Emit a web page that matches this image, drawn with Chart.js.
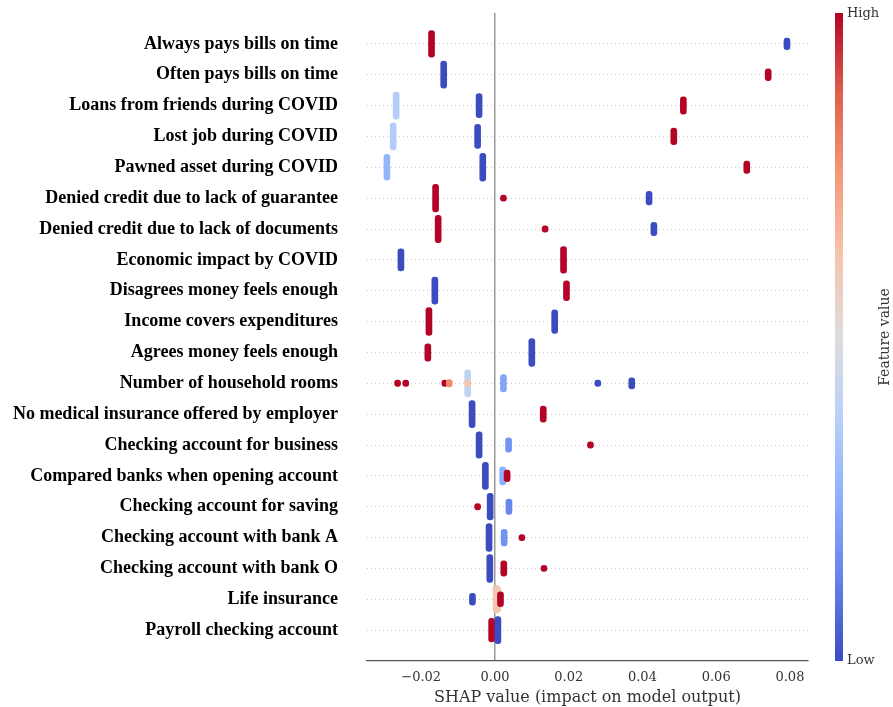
<!DOCTYPE html>
<html>
<head>
<meta charset="utf-8">
<script src="https://cdn.jsdelivr.net/npm/chart.js@4/dist/chart.umd.min.js"></script>
<style>
  html, body { margin: 0; padding: 0; background: #ffffff; }
  #shapChart { display: block; }
</style>
</head>
<body>
<canvas id="shapChart" width="893" height="707"></canvas>
<script>
// Features, top to bottom
const features = [
  'Always pays bills on time',
  'Often pays bills on time',
  'Loans from friends during COVID',
  'Lost job during COVID',
  'Pawned asset during COVID',
  'Denied credit due to lack of guarantee',
  'Denied credit due to lack of documents',
  'Economic impact by COVID',
  'Disagrees money feels enough',
  'Income covers expenditures',
  'Agrees money feels enough',
  'Number of household rooms',
  'No medical insurance offered by employer',
  'Checking account for business',
  'Compared banks when opening account',
  'Checking account for saving',
  'Checking account with bank A',
  'Checking account with bank O',
  'Life insurance',
  'Payroll checking account'
]

// SHAP value of each cluster of samples, per feature
const shapValues = [
  [-0.0172, 0.0792],
  [-0.0139, 0.0741],
  [-0.0268, -0.0043, 0.0511],
  [-0.0276, -0.0047, 0.0485],
  [-0.0293, -0.0033, 0.0683],
  [-0.0161, 0.0023, 0.0418],
  [-0.0154, 0.0136, 0.0431],
  [-0.0255, 0.0186],
  [-0.0163, 0.0194],
  [-0.0179, 0.0162],
  [-0.0182, 0.0100],
  [-0.0264, -0.0242, -0.0136, -0.0124, -0.0074, -0.0074, 0.0023, 0.0279, 0.0371],
  [-0.0062, 0.0131],
  [-0.0043, 0.0037, 0.0259],
  [-0.0026, 0.0021, 0.0033],
  [-0.0047, -0.0013, 0.0038],
  [-0.0016, 0.0025, 0.0073],
  [-0.0014, 0.0024, 0.0133],
  [-0.0061, 0.0003, 0.0008, 0.0015],
  [-0.0009, 0.0008]
]

// Vertical half-spread of each cluster (in rows), how many samples pile up
const spreads = [
  [0.43, 0.19],
  [0.44, 0.19],
  [0.44, 0.39, 0.28],
  [0.44, 0.39, 0.27],
  [0.42, 0.45, 0.2],
  [0.45, 0.1, 0.22],
  [0.44, 0.1, 0.22],
  [0.36, 0.43],
  [0.44, 0.32],
  [0.45, 0.38],
  [0.28, 0.45],
  [0.1, 0.1, 0.1, 0.12, 0.44, 0.12, 0.28, 0.1, 0.18],
  [0.44, 0.26],
  [0.43, 0.23, 0.1],
  [0.44, 0.29, 0.19],
  [0.1, 0.43, 0.25],
  [0.45, 0.27, 0.1],
  [0.45, 0.25, 0.1],
  [0.19, 0.45, 0.4, 0.24],
  [0.38, 0.44]
]

// Normalised feature value of each cluster (0 = low, 1 = high)
const featureValues = [
  [1, 0],
  [0, 1],
  [0.36, 0, 1],
  [0.36, 0, 1],
  [0.27, 0, 1],
  [1, 1, 0],
  [1, 1, 0],
  [0, 1],
  [0, 1],
  [1, 0],
  [1, 0],
  [1, 1, 1, 0.78, 0.4, 0.62, 0.22, 0, 0],
  [0, 1],
  [0, 0.17, 1],
  [0, 0.25, 1],
  [1, 0, 0.14],
  [0, 0.17, 1],
  [0, 1, 1],
  [0, 0.62, 0.62, 1],
  [1, 0]
]

const xTicks = [-0.02, 0, 0.02, 0.04, 0.06, 0.08]
const xMin = -0.0347
const xMax = 0.0849

// coolwarm colormap stops
const coolwarm = [
  [59, 76, 192], [98, 130, 234], [141, 176, 254], [184, 208, 249],
  [221, 221, 221], [245, 196, 173], [244, 154, 123], [222, 96, 77], [180, 4, 38]
]

function coolwarmColor(t) {
  const p = Math.max(0, Math.min(1, t)) * (coolwarm.length - 1)
  const i = Math.min(Math.floor(p), coolwarm.length - 2)
  const f = p - i
  const c = coolwarm[i].map((v, k) => Math.round(v + (coolwarm[i + 1][k] - v) * f))
  return `rgb(${c[0]}, ${c[1]}, ${c[2]})`
}

const nRows = features.length

// Build floating bars (one pill per cluster)
const points = []
const colors = []
features.forEach((name, r) => {
  const rowPos = nRows - 1 - r
  shapValues[r].forEach((v, j) => {
    const s = spreads[r][j]
    points.push({ x: v, y: [rowPos - s, rowPos + s] })
    colors.push(coolwarmColor(featureValues[r][j]))
  })
})

// Colorbar with High / Low labels
const colorbarPlugin = {
  id: 'colorbar',
  afterDraw(chart) {
    const { ctx, chartArea } = chart
    const x = 835
    const w = 8
    const grad = ctx.createLinearGradient(0, chartArea.bottom, 0, chartArea.top)
    coolwarm.forEach((c, i) => grad.addColorStop(i / (coolwarm.length - 1), `rgb(${c[0]}, ${c[1]}, ${c[2]})`))
    ctx.save()
    ctx.fillStyle = grad
    ctx.fillRect(x, chartArea.top, w, chartArea.bottom - chartArea.top)

    ctx.fillStyle = '#333333'
    ctx.font = '13px "DejaVu Serif"'
    ctx.textAlign = 'left'
    ctx.textBaseline = 'middle'
    ctx.fillText('High', x + w + 4, chartArea.top + 1)
    ctx.fillText('Low', x + w + 4, chartArea.bottom)

    ctx.font = '14px "DejaVu Serif"'
    ctx.translate(885, (chartArea.top + chartArea.bottom) / 2)
    ctx.rotate(-Math.PI / 2)
    ctx.textAlign = 'center'
    ctx.fillText('Feature value', 0, 0)
    ctx.restore()
  }
}

const ctx = document.getElementById('shapChart').getContext('2d')
const shapChart = new Chart(ctx, {
  type: 'bar',
  data: {
    datasets: [{
      data: points,
      backgroundColor: colors,
      barThickness: 6,
      borderRadius: 3,
      borderSkipped: false,
      grouped: false
    }]
  },
  plugins: [colorbarPlugin],
  options: {
    responsive: false,
    animation: false,
    layout: {
      padding: { top: 13, right: 85, bottom: 0, left: 0 }
    },
    plugins: {
      legend: { display: false },
      tooltip: { enabled: false }
    },
    scales: {
      x: {
        type: 'linear',
        min: xMin,
        max: xMax,
        offset: false,
        afterBuildTicks: (scale) => {
          scale.ticks = xTicks.map(v => ({ value: v }))
        },
        afterFit: (scale) => {
          scale.height = 46
        },
        ticks: {
          padding: 9,
          color: '#333333',
          font: { family: 'DejaVu Serif', size: 13 },
          callback: (v) => Number(v).toFixed(2).replace('-', '\u2212')
        },
        grid: {
          offset: false,
          drawTicks: false,
          lineWidth: 1.5,
          color: (c) => (c.tick && c.tick.value === 0 ? '#999999' : 'rgba(0,0,0,0)')
        },
        border: {
          display: true,
          color: '#555555',
          width: 1.2
        },
        title: {
          display: true,
          text: 'SHAP value (impact on model output)',
          color: '#333333',
          font: { family: 'DejaVu Serif', size: 16 },
          padding: { top: 0, bottom: 0 }
        }
      },
      y: {
        type: 'linear',
        min: -1,
        max: nRows,
        afterFit: (scale) => {
          scale.width = 367
          // label gap should not push the plot area down
          scale.paddingTop = 0
          scale.paddingBottom = 0
        },
        ticks: {
          stepSize: 1,
          autoSkip: false,
          padding: 29,
          color: '#000000',
          font: { family: 'Liberation Serif', size: 18, weight: 'bold' },
          callback: (v) => (v >= 0 && v < nRows ? features[nRows - 1 - v] : '')
        },
        grid: {
          drawTicks: false,
          lineWidth: 1,
          color: (c) => (c.tick && c.tick.value >= 0 && c.tick.value < nRows ? '#cccccc' : 'rgba(0,0,0,0)')
        },
        border: {
          display: false,
          dash: [1, 3]
        }
      }
    }
  }
})
</script>
</body>
</html>
